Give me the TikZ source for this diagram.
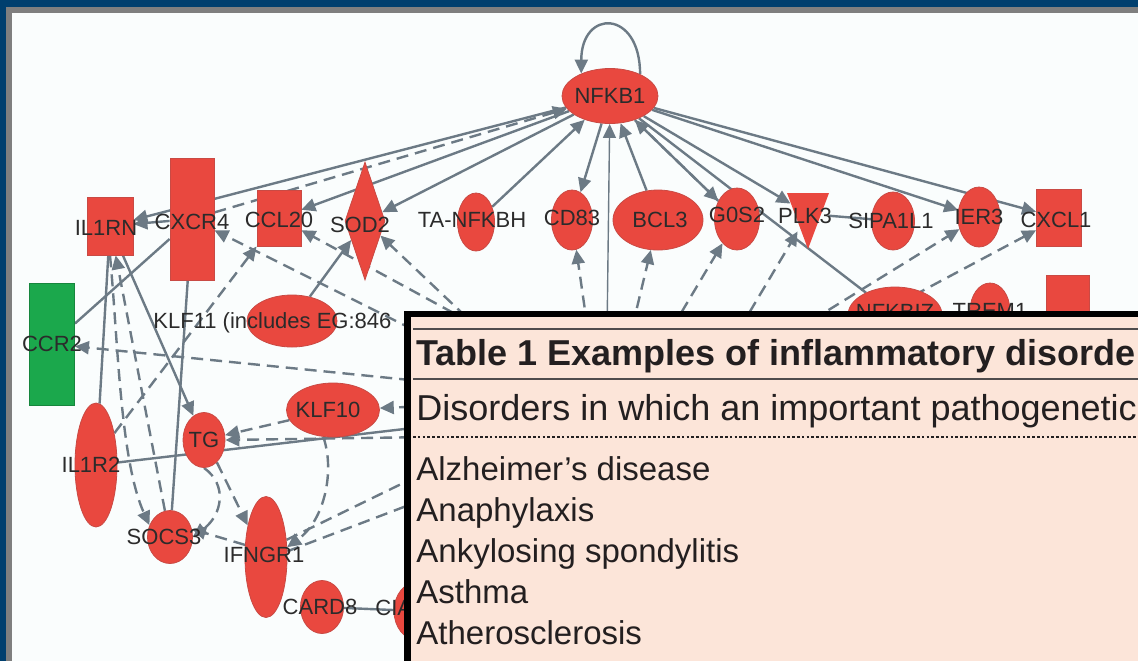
\documentclass[tikz,border=0pt]{standalone}
\usepackage{fontspec}
\setmainfont{Liberation Sans}
\usetikzlibrary{shapes.geometric,arrows.meta}
\definecolor{frameblue}{HTML}{003F6E}
\definecolor{framegray}{HTML}{7F7F7F}
\definecolor{paper}{HTML}{FAFDFD}
\definecolor{nodered}{HTML}{E9483F}
\definecolor{noderim}{HTML}{C94A44}
\definecolor{cgreen}{HTML}{1BA84C}
\definecolor{edgegray}{HTML}{6C7A85}
\definecolor{labelgray}{HTML}{2B2B2B}
\definecolor{tablebg}{HTML}{FCE5D9}
\definecolor{tabletext}{HTML}{231F20}
\pgfdeclarelayer{back}
\pgfdeclarelayer{edges}
\pgfsetlayers{back,edges,main}
\tikzset{
  gene/.style={fill=nodered, draw=noderim, line width=0.4pt, inner sep=0pt},
  oval/.style={gene, ellipse},
  box/.style={gene, rectangle},
  lab/.style={text=labelgray, inner sep=0pt, font=\fontsize{11}{12}\selectfont},
  link/.style={draw=edgegray, line width=1.2pt},
  act/.style={link, -{Triangle[length=7pt,width=6.5pt]}},
  dlink/.style={link, dash pattern=on 6pt off 3.5pt},
  dact/.style={dlink, -{Triangle[length=7pt,width=6.5pt]}},
  rule/.style={draw=tabletext!80, line width=1pt},
  dotrule/.style={draw=tabletext, line width=1.4pt, dash pattern=on 1.3pt off 1.1pt},
  tabtitle/.style={text=tabletext, inner sep=0pt, anchor=base west, font=\bfseries\fontsize{18}{20}\selectfont},
  tabhead/.style={text=tabletext, inner sep=0pt, anchor=base west, font=\fontsize{18}{20}\selectfont},
  tabitem/.style={text=tabletext, inner sep=0pt, anchor=base west, font=\fontsize{16.5}{19}\selectfont}
}
\begin{document}
\begin{tikzpicture}[x=0.5pt, y=-0.5pt]
  \useasboundingbox (0,0) rectangle (1138,661);

  % frame and panel
  \begin{pgfonlayer}{back}
    \fill[frameblue] (0,0) rectangle (1138,661);
    \fill[framegray] (6,7) rectangle (1138,661);
    \fill[paper] (12,13) rectangle (1138,661);
  \end{pgfonlayer}

  % top row
  \node[oval, minimum width=48pt, minimum height=27.5pt, label={[lab]center:NFKB1}] (NFKB1) at (610,96) {};
  \node[box, minimum width=23pt, minimum height=29pt, label={[lab,xshift=-2pt,yshift=-1pt]center:IL1RN}] (IL1RN) at (110,226) {};
  \node[box, minimum width=22pt, minimum height=61pt, label={[lab,yshift=-1.5pt]center:CXCR4}] (CXCR4) at (192,219) {};
  \node[box, minimum width=22pt, minimum height=28pt, label={[lab,yshift=-1pt]center:CCL20}] (CCL20) at (279,218) {};
  \node[gene, diamond, minimum width=20pt, minimum height=59pt, label={[lab,xshift=-2.5pt,yshift=-2pt]center:SOD2}] (SOD2) at (365,221) {};
  \node[oval, minimum width=18.5pt, minimum height=29pt, label={[lab,xshift=-2pt,yshift=1pt]center:TA-NFKBH}] (TANFKBH) at (476,222) {};
  \node[oval, minimum width=20.5pt, minimum height=30pt, label={[lab,yshift=1pt]center:CD83}] (CD83) at (572,220) {};
  \node[oval, minimum width=45pt, minimum height=30pt, label={[lab,xshift=1pt]center:BCL3}] (BCL3) at (658,220) {};
  \node[oval, minimum width=22.5pt, minimum height=31pt, label={[lab,yshift=2pt]center:G0S2}] (G0S2) at (737,219) {};
  \fill[nodered] (787,193) -- (829,193) -- (808,249) -- cycle;
  \node[circle, minimum size=20pt, inner sep=0pt, label={[lab,xshift=-1.5pt,yshift=-1pt]center:PLK3}] (PLK3) at (808,214) {};
  \node[oval, minimum width=21.5pt, minimum height=29pt, label={[lab,xshift=-1pt]center:SIPA1L1}] (SIPA1L1) at (893,221) {};
  \node[oval, minimum width=21pt, minimum height=30pt, label={[lab]center:IER3}] (IER3) at (979,217) {};
  \node[box, minimum width=22.5pt, minimum height=28.5pt, label={[lab,xshift=-1.5pt,yshift=-1pt]center:CXCL1}] (CXCL1) at (1059,218) {};

  % row under the table edge
  \node[box, minimum width=21.5pt, minimum height=33pt] (rbox) at (1068,308) {};
  \node[oval, minimum width=47pt, minimum height=28pt, label={[lab,yshift=1.5pt]center:NFKBIZ}] (NFKBIZ) at (895,315) {};
  \node[oval, minimum width=20pt, minimum height=28pt, label={[lab]center:TREM1}] (TREM1) at (990,311) {};

  % left cluster
  \node[box, fill=cgreen, draw=cgreen!80!black, minimum width=22.5pt, minimum height=61pt, label={[lab]center:CCR2}] (CCR2) at (52,344) {};
  \node[oval, minimum width=45pt, minimum height=26pt] (KLF11) at (292,321) {};
  \node[lab, anchor=west] (KLF11txt) at (153,323) {KLF11 (includes EG:846};
  \node[oval, minimum width=21pt, minimum height=62pt, label={[lab,xshift=-2.5pt]center:IL1R2}] (IL1R2) at (96,465) {};
  \node[oval, minimum width=21pt, minimum height=27.5pt, label={[lab]center:TG}] (TG) at (204,440) {};
  \node[oval, minimum width=46.5pt, minimum height=27pt, label={[lab,xshift=-2.5pt]center:KLF10}] (KLF10) at (333,410) {};
  \node[oval, minimum width=22.5pt, minimum height=26.5pt, label={[lab,xshift=-3pt]center:SOCS3}] (SOCS3) at (170,537) {};
  \node[oval, minimum width=21pt, minimum height=60.5pt, label={[lab,xshift=-1pt,yshift=1pt]center:IFNGR1}] (IFNGR1) at (266,557) {};
  \node[oval, minimum width=21.5pt, minimum height=26.5pt, label={[lab,xshift=-1pt]center:CARD8}] (CARD8) at (322,607) {};
  \node[oval, minimum width=23pt, minimum height=29pt] (CIAS1) at (417,611) {};
  \node[lab, anchor=west] (CIAS1txt) at (375,608) {CIA};

  % connectors
  \begin{pgfonlayer}{edges}
    \coordinate (vN) at (607,335);
    \coordinate (e1) at (590,345);
    \coordinate (e2) at (628,345);
    \coordinate (e3) at (662,345);
    \coordinate (e4) at (730,345);
    \coordinate (e5) at (780,340);
    \coordinate (e6) at (830,340);
    \coordinate (e7) at (480,330);
    \coordinate (e8) at (430,338);
    \coordinate (e9) at (430,382);
    \coordinate (e10) at (430,426);
    \coordinate (e11) at (430,437);
    \coordinate (e12) at (430,406);
    \coordinate (e13) at (430,470);
    \coordinate (e14) at (430,497);
    \coordinate (e15) at (470,322);

    \draw[act] (NFKB1.36) .. controls +(0,-65) and +(0,-65) .. (NFKB1.142);
    \draw[act] (NFKB1) -- (IL1RN);
    \draw[act] (NFKB1) -- (CCL20);
    \draw[act] (NFKB1) -- (SOD2);
    \draw[dact] (CXCR4) -- (NFKB1);
    \draw[act] (TANFKBH) -- (NFKB1);
    \draw[act] (NFKB1) -- (CD83);
    \draw[act] (BCL3) -- (NFKB1);
    \draw[act] (G0S2) -- (NFKB1);
    \draw[dact] (NFKB1) -- (G0S2);
    \draw[act] (NFKB1) -- (PLK3);
    \draw[act] (NFKB1) -- (IER3);
    \draw[act] (NFKB1) -- (CXCL1);
    \draw[link] (NFKB1) -- (NFKBIZ);
    \draw[act, line width=0.7pt] (vN) -- (NFKB1);
    \draw[link] (PLK3) -- (SIPA1L1);

    \draw[dact] (e1) -- (CD83);
    \draw[dact] (e2) -- (BCL3);
    \draw[dact] (e3) -- (G0S2);
    \draw[dact] (e4) -- (PLK3);
    \draw[dact] (e5) -- (IER3);
    \draw[dact] (e6) -- (CXCL1);
    \draw[dact] (e7) -- (SOD2);
    \draw[dact] (e8) -- (CXCR4);
    \draw[dact] (e15) -- (CCL20);
    \draw[act] (KLF11) -- (SOD2);

    \draw[act] (CXCR4) -- (IL1RN);
    \draw[link] (IL1RN) -- (IL1R2);
    \draw[link] (CXCR4) -- (SOCS3);
    \draw[link] (CCR2) -- (CXCR4);
    \draw[dact] (e9) -- (CCR2);
    \draw[act] (IL1RN) -- (TG);
    \draw[dact] (SOCS3) -- (IL1RN);
    \draw[dact] (IL1RN.south) .. controls (118,340) and (120,460) .. (SOCS3.150);
    \draw[dact] (IL1R2.60) -- (CCL20.south west);
    \draw[link] (IL1R2) -- (e10);
    \draw[dact] (KLF10) -- (TG);
    \draw[dact] (e11) -- (TG.east);
    \draw[dact] (e12) -- (KLF10);
    \draw[dact] (TG.south) .. controls (228,485) and (222,515) .. (SOCS3.east);
    \draw[dact] (IFNGR1.150) -- (SOCS3.20);
    \draw[dact] (TG.300) -- (IFNGR1.120);
    \draw[dact] (KLF10.250) .. controls (335,470) and (325,520) .. (IFNGR1.25);
    \draw[dlink] (IFNGR1.40) -- (e13);
    \draw[dlink] (IFNGR1.15) -- (e14);
    \draw[link] (CARD8) -- (CIAS1);
  \end{pgfonlayer}

  % table overlay
  \begin{scope}
    \clip (0,0) rectangle (1138,661);
    \fill[black] (404,311) rectangle (1138,661);
    \fill[tablebg] (411,317) rectangle (1138,661);
    \draw[rule] (413,329) -- (1138,329);
    \draw[rule] (413,379) -- (1138,379);
    \draw[dotrule] (413,437) -- (1138,437);
    \node[tabtitle] (ttitle) at (416,365) {Table 1 Examples of inflammatory disorde};
    \node[tabhead] (thead) at (416,420) {Disorders in which an important pathogenetic};
    \node[tabitem] (row1) at (416,480) {Alzheimer’s disease};
    \node[tabitem] (row2) at (416,521) {Anaphylaxis};
    \node[tabitem] (row3) at (416,562) {Ankylosing spondylitis};
    \node[tabitem] (row4) at (416,603) {Asthma};
    \node[tabitem] (row5) at (416,644) {Atherosclerosis};
  \end{scope}
\end{tikzpicture}
\end{document}
